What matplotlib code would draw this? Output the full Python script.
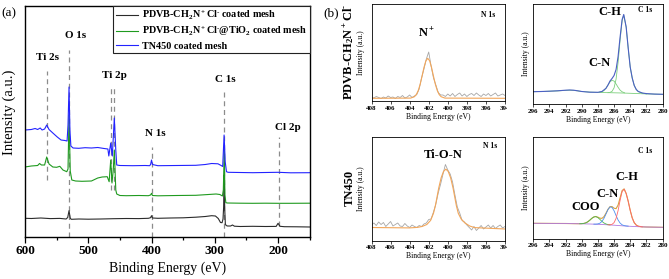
import matplotlib
matplotlib.use('Agg')
import matplotlib.pyplot as plt
from matplotlib.patches import Rectangle

plt.rcParams['font.family'] = 'Liberation Serif'
plt.rcParams['font.weight'] = 'bold'
plt.rcParams['mathtext.fontset'] = 'custom'
plt.rcParams['mathtext.rm'] = 'Liberation Serif:bold'
plt.rcParams['mathtext.it'] = 'Liberation Serif:bold'
plt.rcParams['mathtext.bf'] = 'Liberation Serif:bold'

# ---- (a) survey spectra (binding energy in eV, intensity in a.u.) ----
black_x = [600, 590, 575, 560, 545, 535, 532.5, 530.4, 528.5, 527,
           515, 500, 480, 460, 440, 420, 405, 401.5, 400, 398.5,
           390, 370, 350, 330, 315, 305, 299, 294.5, 291, 288.5,
           287, 286, 285.2, 284.3, 283.3, 282, 280, 275, 272, 269,
           260, 240, 220, 203, 200, 197, 190, 170, 150]
black_y = [18.7, 18.5, 19.0, 18.4, 18.6, 18.0, 19.5, 26.3, 19.0, 17.7,
           18.0, 17.8, 18.0, 18.3, 18.5, 18.4, 18.7, 19.3, 21.3, 19.0,
           18.7, 19.0, 19.2, 19.8, 20.5, 21.3, 21.0, 18.5, 14.5, 14.3,
           18.0, 30.0, 62.0, 28.0, 13.0, 11.5, 11.0, 11.0, 12.0, 10.8,
           10.5, 10.7, 10.5, 10.6, 13.7, 10.7, 10.3, 10.2, 10.0]

green_x = [600, 590, 580, 577, 574, 569, 565.7, 562, 556, 550,
           545, 540, 534, 532, 530.4, 528.5, 526, 520, 510, 495,
           485, 478, 470, 467, 464.5, 462.5, 460.5, 458.8, 456.5, 455,
           450, 440, 420, 405, 401.5, 400, 398.5, 390, 360, 330,
           310, 298, 292, 288, 286.5, 285, 284, 282.5, 280, 260,
           240, 220, 200, 180, 150]
green_y = [70, 71, 71.5, 73.5, 72, 72, 80, 73, 70, 69.7,
           70.7, 67, 65.3, 68, 122, 66, 57, 56, 55.7, 56,
           59, 60, 60.3, 55.3, 77, 54, 67, 87, 47, 43,
           41.5, 41.3, 41.5, 41.3, 42, 43.7, 41.5, 41.2, 41.5, 41.7,
           42.5, 43, 42.5, 41, 47, 87, 42, 34.3, 34, 33.8,
           33.7, 33.8, 33.7, 33.7, 33.8]

blue_x = [600, 590, 584, 580, 576, 573, 569, 565.7, 562, 556,
          549, 543, 537, 533.5, 532, 530.4, 529, 527.5, 524, 515,
          505, 495, 485, 475, 469, 467.5, 464.5, 462, 458.8, 456.5,
          455, 450, 430, 410, 403, 401.5, 400, 398.5, 390, 360,
          330, 315, 305, 295, 290, 287.5, 285.3, 283.5, 281.5, 279,
          260, 240, 220, 200, 180, 150]
blue_y = [107, 107.5, 108.5, 107.5, 109, 107, 108, 112, 107.5, 104,
          100, 97, 96.5, 96, 112, 150, 107, 91, 89, 88.7,
          89.3, 89, 89.5, 88.5, 88, 81, 94, 81, 119, 87,
          72, 71.5, 71.3, 71.5, 71.3, 72.5, 77, 72.5, 71.3, 71.5,
          71.7, 72.5, 73.5, 73.2, 71.5, 70.5, 102, 75, 65.3, 64.7,
          64.5, 64.3, 64.5, 64.7, 64.2, 64.3]

survey_labels = [r'PDVB-CH$_2$N$^+$Cl$^{\text{-}}$ coated mesh',
                 r'PDVB-CH$_2$N$^+$Cl$^{\text{-}}$@TiO$_2$ coated mesh',
                 'TN450 coated mesh']

# peak assignments: energy, dashed line from / to (intensity)
peak_pos = [565.7, 530.4, 464.5, 458.8, 400.0, 284.9, 198.5]
peak_lo = [57, 0, 47, 47, 0, 0, 11]
peak_hi = [166, 187, 152, 152, 90, 147, 100]

# ---- (b) high resolution spectra ----
# PDVB-CH2N+Cl-, N 1s
n1_x = [408.0, 407.75, 407.5, 407.25, 407.0, 406.75, 406.5, 406.25, 406.0, 405.75,
        405.5, 405.25, 405.0, 404.75, 404.5, 404.25, 404.0, 403.75, 403.5, 403.25,
        403.0, 402.75, 402.5, 402.25, 402.0, 401.75, 401.5, 401.25, 401.0, 400.75,
        400.5, 400.25, 400.0, 399.75, 399.5, 399.25, 399.0, 398.75, 398.5, 398.25,
        398.0, 397.75, 397.5, 397.25, 397.0, 396.75, 396.5, 396.25, 396.0, 395.75,
        395.5, 395.25, 395.0, 394.75, 394.5, 394.25, 394.0, 393.75]
n1_raw = [3.0, 2.0, 3.5, 2.5, 1.5, 3.0, 2.0, 4.0, 2.5, 3.0,
          1.5, 3.5, 2.5, 4.5, 2.0, 3.0, 5.0, 2.5, 4.0, 5.5,
          11.0, 22.0, 31.0, 41.0, 48.0, 34.0, 22.0, 15.0, 7.5, 5.0,
          5.0, 3.5, 6.0, 4.0, 6.5, 3.5, 5.5, 7.0, 4.0, 6.0,
          3.5, 5.5, 6.5, 4.5, 7.0, 5.0, 3.5, 6.0, 4.5, 6.5,
          4.0, 5.5, 7.0, 4.0, 5.0, 6.0, 4.5, 5.0]
n1_fit_x = [408, 403.9, 403.5, 403.3, 403.1, 402.9, 402.7, 402.5, 402.3, 402.1,
            401.9, 401.7, 401.5, 401.3, 401.1, 400.9, 400.7, 400.3, 394]
n1_fit = [1.7, 1.9, 3.3, 5.4, 9.4, 15.6, 23.8, 32.4, 39.1, 41.7,
          39.1, 32.4, 23.8, 15.6, 9.4, 5.4, 3.3, 1.9, 1.7]

# PDVB-CH2N+Cl-, C 1s
c1_x = [296, 295, 294, 293, 292, 291.5, 291, 290.5, 290, 289,
        288, 287.5, 287, 286.75, 286.5, 286.25, 286, 285.75, 285.5, 285.25,
        285, 284.8, 284.5, 284.25, 284, 283.75, 283.5, 283.25, 283, 282.5,
        282, 281, 280]
c1_raw = [12.3, 12.5, 12.8, 13.2, 13.8, 14.0, 13.8, 13.2, 12.5, 11.8,
          11.7, 12.5, 15.7, 19.0, 23.0, 25.5, 28.5, 34.5, 47.5, 67.0,
          84.5, 89.5, 77.0, 56.0, 37.0, 26.0, 18.5, 14.5, 12.5, 11.0,
          10.4, 9.9, 9.7]
c1_bg_x = [296, 295, 294, 293, 292, 291.5, 291, 290.5, 290, 289,
           288, 287, 286, 285, 284, 283, 282, 281, 280]
c1_bg = [12.3, 12.5, 12.8, 13.1, 13.6, 13.8, 13.6, 13.1, 12.5, 11.9,
         11.6, 11.4, 11.2, 11.0, 10.7, 10.4, 10.1, 9.9, 9.7]
c1_cn_x = [287.8, 287.5, 287.25, 287, 286.75, 286.5, 286.25, 286, 285.75, 285.5,
           285.25, 285, 284.7]
c1_cn = [11.8, 12.3, 13.45, 15.7, 18.95, 22.1, 23.75, 22.9, 20.05, 16.7,
         13.85, 12.2, 11.2]
c1_ch_x = [286.75, 286.5, 286.25, 286, 285.75, 285.5, 285.25, 285, 284.8, 284.5,
           284.25, 284, 283.75, 283.5, 283.25, 283, 282.5, 282]
c1_ch = [11.35, 11.6, 12.65, 16.1, 24.85, 41.5, 63.95, 83.2, 88.9, 77.0,
         56.0, 37.0, 26.0, 18.5, 14.5, 12.5, 10.8, 10.1]

# TN450, N 1s
n2_x = [408.0, 407.75, 407.5, 407.25, 407.0, 406.75, 406.5, 406.25, 406.0, 405.75,
        405.5, 405.25, 405.0, 404.75, 404.5, 404.25, 404.0, 403.75, 403.5, 403.25,
        403.0, 402.75, 402.5, 402.25, 402.0, 401.75, 401.5, 401.25, 401.0, 400.75,
        400.5, 400.25, 400.0, 399.75, 399.5, 399.25, 399.0, 398.75, 398.5, 398.25,
        398.0, 397.75, 397.5, 397.25, 397.0, 396.75, 396.5, 396.25, 396.0, 395.75,
        395.5, 395.25, 395.0, 394.75, 394.5, 394.25, 394.0]
n2_raw = [15, 17, 14.5, 18, 15.5, 17.5, 13.5, 16, 18.5, 14,
          15.5, 17, 14, 13.5, 16.5, 14, 12.5, 15, 13.5, 12.5,
          14.5, 13.5, 16, 17, 20.5, 21, 28, 36, 47, 56,
          66, 75.5, 70, 66, 58, 45, 33, 27, 19.5, 18,
          15, 12.5, 10, 13.5, 9.5, 12, 14.5, 11, 13, 15,
          12, 14.5, 11.5, 13.5, 15, 12, 13.5]
n2_fit_x = [408, 404, 403.2, 402.7, 402.2, 401.8, 401.5, 401.3, 401.1, 400.95,
            400.7, 400.45, 400.2, 399.95, 399.7, 399.45, 399.3, 399.1, 398.9, 398.6,
            398.2, 397.7, 397.2, 394]
n2_fit = [12.5, 12.1, 12.6, 13.5, 15.5, 19.6, 26.7, 34.3, 44.4, 52.0,
          62.1, 68.5, 70.9, 68.5, 62.1, 52.0, 44.4, 34.3, 26.7, 21.0,
          17.0, 14.0, 12.4, 11.0]

# TN450, C 1s
c2_x = [296, 294, 292, 291, 290.5, 290.25, 290, 289.75, 289.5, 289.25,
        289, 288.75, 288.5, 288.25, 288, 287.75, 287.5, 287.25, 287, 286.75,
        286.5, 286.25, 286, 285.75, 285.5, 285.25, 285, 284.75, 284.5, 284.25,
        284, 283.75, 283.5, 283.25, 283, 282.5, 282, 281, 280]
c2_env = [15.2, 15.1, 15.0, 14.85, 14.8, 14.78, 14.84, 15.06, 15.63, 16.72,
          18.35, 20.17, 21.56, 21.99, 21.3, 20.32, 20.16, 21.8, 25.25, 29.21,
          31.84, 31.87, 30.27, 29.86, 33.4, 40.76, 47.97, 49.61, 45.04, 37.33,
          28.2, 20.6, 15.8, 13.4, 12.3, 11.65, 11.5, 11.35, 11.2]
c2_bg_x = [296, 292, 290, 289, 288, 287, 286, 285, 284, 283, 282, 280]
c2_bg = [15.2, 15.0, 14.7, 14.5, 14.2, 13.8, 13.3, 12.7, 12.2, 11.8, 11.5, 11.2]
c2_coo_x = [290.25, 290, 289.75, 289.5, 289.25, 289, 288.75, 288.5, 288.25, 288,
            287.75, 287.5, 287.25, 287, 286.75, 286.5]
c2_coo = [14.78, 14.84, 15.06, 15.63, 16.72, 18.35, 20.17, 21.54, 21.88, 20.9,
          19.09, 17.12, 15.54, 14.53, 13.95, 13.63]
c2_cn_x = [288.5, 288.25, 288, 287.75, 287.5, 287.25, 287, 286.75, 286.5, 286.25,
           286, 285.75, 285.5, 285.25, 285, 284.75, 284.5, 284.25]
c2_cn = [14.37, 14.39, 14.6, 15.33, 17.04, 20.16, 24.52, 28.94, 31.58, 31.13,
         27.72, 22.92, 18.49, 15.41, 13.69, 12.89, 12.54, 12.35]
c2_ch_x = [286.75, 286.5, 286.25, 286, 285.75, 285.5, 285.25, 285, 284.75, 284.5,
           284.25, 284, 283.75, 283.5, 283.25, 283, 282.75, 282.5]
c2_ch = [13.68, 13.73, 14.17, 15.85, 20.09, 27.91, 38.2, 46.98, 49.3, 44.95,
         37.33, 28.2, 20.6, 15.8, 13.4, 12.3, 11.83, 11.65]

W, H = 669, 279


def px_axes(fig, left, top, right, bottom):
    # place an axes by its pixel box in the 669x279 figure
    return fig.add_axes([left / W, 1 - bottom / H, (right - left) / W, (bottom - top) / H])


def style_small(ax, xlim, ticks, ylim, ylab_x):
    ax.set_xlim(*xlim)
    ax.set_ylim(*ylim)
    ax.set_xticks(ticks)
    ax.set_yticks([])
    ax.tick_params(axis='x', direction='out', length=2, width=0.5, labelsize=5, pad=1.5)
    for s in ax.spines.values():
        s.set_linewidth(0.6)
    ax.set_xlabel('Binding Energy (eV)', fontsize=5.5, labelpad=1.5)
    ax.set_ylabel('Intensity (a.u.)', fontsize=5.5)
    ax.yaxis.set_label_coords(ylab_x, 0.5)


fig = plt.figure(figsize=(W / 100, H / 100), dpi=100)

# ---------- panel (a) ----------
ax = px_axes(fig, 25, 6, 310, 237)
ax.vlines(peak_pos, peak_lo, peak_hi, colors='#8c8c8c', linestyles=(0, (4, 3)), linewidth=0.9, zorder=1)
ax.plot(black_x, black_y, color='#2b2b2b', lw=0.8, label=survey_labels[0], zorder=2)
ax.plot(green_x, green_y, color='#1f9a1f', lw=0.8, label=survey_labels[1], zorder=2)
ax.plot(blue_x, blue_y, color='#2323ff', lw=0.8, label=survey_labels[2], zorder=2)
ax.set_xlim(600, 149.5)
ax.set_ylim(0, 231)
ax.set_xticks([600, 500, 400, 300, 200])
ax.set_xticks([550, 450, 350, 250, 150], minor=True)
ax.set_yticks([])
ax.tick_params(axis='x', which='major', direction='out', length=4, width=0.9, labelsize=9.5, pad=2)
ax.tick_params(axis='x', which='minor', direction='out', length=2.5, width=0.9)
for s in ax.spines.values():
    s.set_linewidth(1.0)
ax.set_xlabel('Binding Energy (eV)', fontsize=10, labelpad=3)
ax.set_ylabel('Intensity (a.u.)', fontsize=10.5)
ax.yaxis.set_label_coords(-0.033, 0.54)

label_spots = [('Ti 2s', 563.9, 179), ('O 1s', 520.2, 202), ('Ti 2p', 459.3, 162),
               ('N 1s', 393.3, 104), ('C 1s', 283.8, 157), ('Cl 2p', 184.5, 110)]
for name, xx, yy in label_spots:
    ax.text(xx, yy, name, fontsize=8, ha='center', va='center')

leg = ax.legend(loc='upper right', borderaxespad=0, fancybox=False, framealpha=1,
                edgecolor='#222222', prop={'size': 7.3, 'weight': 'bold'},
                handlelength=2.2, handletextpad=0.4, borderpad=0.25, labelspacing=0.3)
leg.get_frame().set_linewidth(0.8)

fig.text(9 / W, 1 - 13 / H, '(a)', fontsize=9.5, fontweight='normal', ha='center', va='center')
fig.text(331 / W, 1 - 13 / H, '(b)', fontsize=9.5, fontweight='normal', ha='center', va='center')

# ---------- panel (b), top row: PDVB-CH2N+Cl- ----------
ax1 = px_axes(fig, 371.5, 4, 505, 100.7)
ax1.plot(n1_x, n1_raw, color='#a6a6a6', lw=0.6)
ax1.plot(n1_fit_x, n1_fit, color='#f2a65a', lw=0.8)
style_small(ax1, (408, 394), [408, 406, 404, 402, 400, 398, 396, 394], (-0.7, 96), -0.05)
ax1.text(402.2, 66.7, 'N$^+$', fontsize=9, ha='center', va='center')
ax1.text(395.75, 85, 'N 1s', fontsize=5.5, ha='center', va='center')

ax2 = px_axes(fig, 533.3, 4, 662.5, 104)
ax2.plot(c1_bg_x, c1_bg, color='#7ccf7c', lw=0.6)
ax2.plot(c1_cn_x, c1_cn, color='#7ccf7c', lw=0.6)
ax2.plot(c1_ch_x, c1_ch, color='#7ccf7c', lw=0.6)
ax2.plot(c1_x, c1_raw, color='#4b5fc4', lw=0.8)
style_small(ax2, (296, 280), [296, 294, 292, 290, 288, 286, 284, 282, 280], (0, 100), -0.027)
ax2.text(282.2, 94, 'C 1s', fontsize=5.5, ha='center', va='center')
ax2.text(286.5, 92.3, 'C-H', fontsize=9, ha='center', va='center')
ax2.text(287.75, 40.7, 'C-N', fontsize=9, ha='center', va='center')

# ---------- panel (b), bottom row: TN450 ----------
ax3 = px_axes(fig, 371.5, 137, 505, 240.5)
ax3.plot(n2_x, n2_raw, color='#a6a6a6', lw=0.6)
ax3.plot(n2_fit_x, n2_fit, color='#f2a65a', lw=0.8)
style_small(ax3, (408, 394), [408, 406, 404, 402, 400, 398, 396, 394], (-0.5, 103), -0.05)
ax3.text(400.5, 85, 'Ti-O-N', fontsize=9, ha='center', va='center')
ax3.text(395.6, 94, 'N 1s', fontsize=5.5, ha='center', va='center')

ax4 = px_axes(fig, 533.3, 137, 662.5, 238.5)
ax4.plot(c2_x, c2_env, color='#d6a23e', lw=0.8)
ax4.plot(c2_bg_x, c2_bg, color='#b07ae0', lw=0.6)
ax4.plot(c2_coo_x, c2_coo, color='#4fb84f', lw=0.6)
ax4.plot(c2_cn_x, c2_cn, color='#4d8ff0', lw=0.6)
ax4.plot(c2_ch_x, c2_ch, color='#ff6a6a', lw=0.6)
style_small(ax4, (296, 280), [296, 294, 292, 290, 288, 286, 284, 282, 280], (0, 101.5), -0.027)
ax4.text(282.2, 87.5, 'C 1s', fontsize=5.5, ha='center', va='center')
ax4.text(284.45, 61.2, 'C-H', fontsize=9, ha='center', va='center')
ax4.text(286.85, 44.2, 'C-N', fontsize=9, ha='center', va='center')
ax4.text(289.5, 31.8, 'COO', fontsize=9, ha='center', va='center')

# sample names written sideways
fig.text(349 / W, 1 - 52 / H, r'PDVB-CH$_2$N$^+$Cl$^{\text{-}}$', fontsize=9, rotation=90,
         ha='center', va='center')
fig.text(349.5 / W, 1 - 188 / H, 'TN450', fontsize=9, rotation=90, ha='center', va='center')

# the left panels are cut at their right edge in the original
fig.add_artist(Rectangle((507 / W, 0), 13 / W, 1, transform=fig.transFigure,
                         facecolor='white', edgecolor='none', zorder=5))

fig.savefig('out.png', dpi=100)
